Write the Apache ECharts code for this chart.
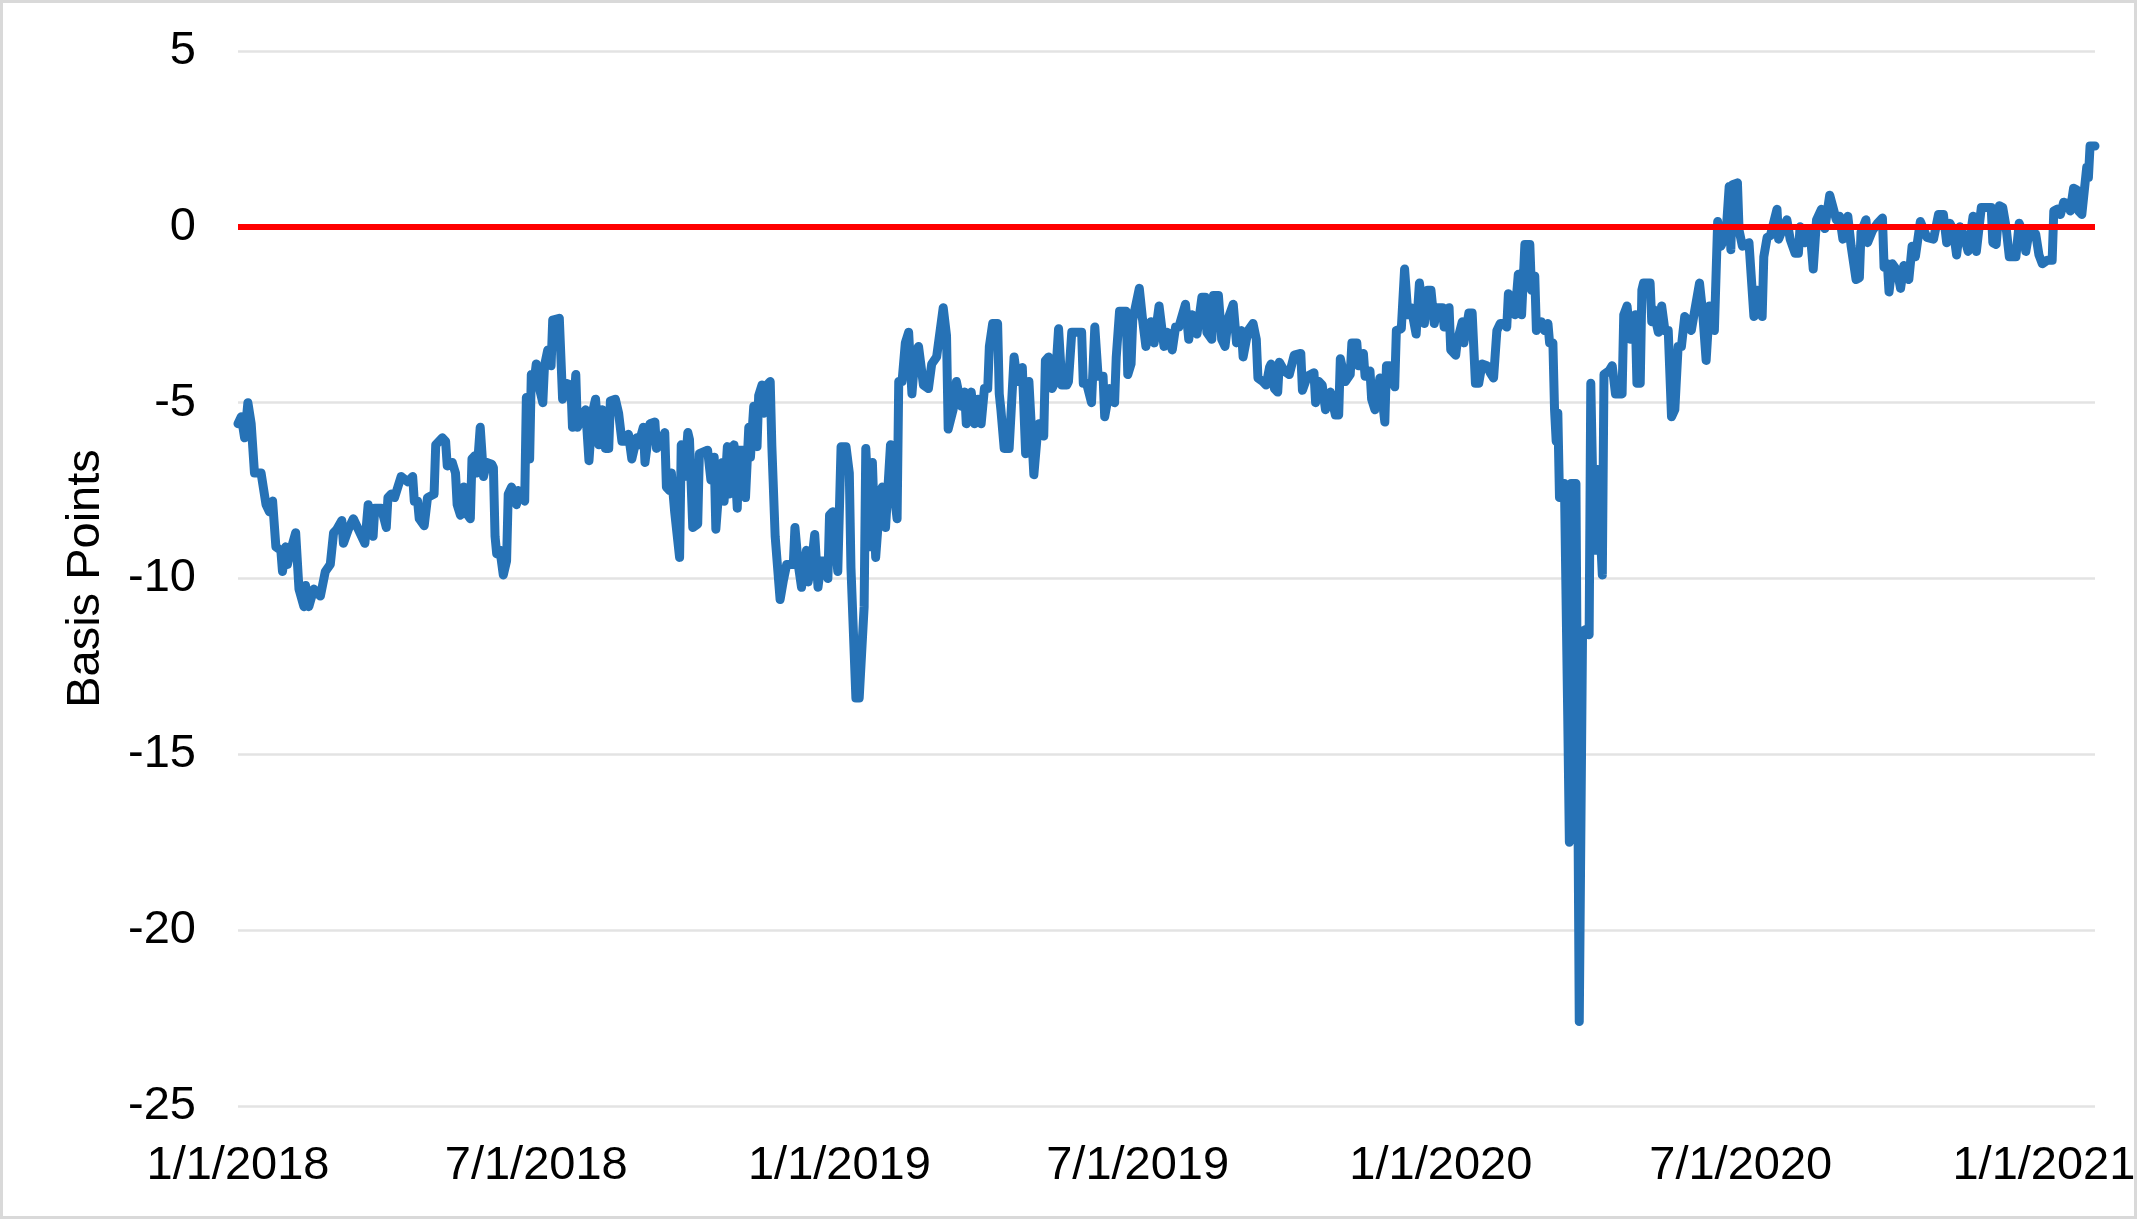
<!DOCTYPE html>
<html>
<head>
<meta charset="utf-8">
<script src="https://cdn.jsdelivr.net/npm/echarts@6/dist/echarts.min.js"></script>
<style>
html,body{margin:0;padding:0;background:#fff;}
#chart{width:2147px;height:1221px;}
</style>
</head>
<body>
<div id="chart"></div>
<script>
// ---- data (x = days since startDate, y = basis points) ----
const startDate = '2018-01-01';
const endDate = '2021-02-01';
const tickDates = ['2018-01-01','2018-07-01','2019-01-01','2019-07-01','2020-01-01','2020-07-01','2021-01-01'];
const tickLabels = ['1/1/2018','7/1/2018','1/1/2019','7/1/2019','1/1/2020','7/1/2020','1/1/2021'];
const yTicks = [5, 0, -5, -10, -15, -20, -25];
const zeroLine = 0;

const days = [
0,2,4,6,8,10,14,17,19,21,23,26,27,29,30,32,35,37,40,41,43,46,50,53,56,58,60,63,64,67,70,73,77,79,82,83,87,90,91,93,95,99,103,106,107,109,110,113,115,119,120,122,124,
126,127,130,132,133,135,137,138,141,142,144,145,147,149,151,154,155,156,157,159,161,163,164,166,169,170,174,175,177,178,180,181,183,185,186,188,190,191,195,197,199,202,203,205,206,209,211,213,215,217,219,221,223,225,226,229,231,233,235,237,239,242,243,246,247,250,253,254,
256,259,260,262,263,265,268,269,270,271,273,274,276,279,280,285,287,289,290,292,294,295,297,298,301,303,304,307,308,310,311,313,315,316,318,319,321,323,324,326,329,331,333,337,338,340,342,345,346,348,350,352,354,356,358,359,361,364,366,369,371,372,375,377,380,381,384,385,387,390,391,393,396,397,400,
401,403,405,407,409,411,413,416,419,421,424,428,430,431,434,436,439,441,442,445,447,449,451,453,455,456,458,461,462,463,465,468,471,473,476,478,480,483,485,486,489,490,492,494,496,498,500,503,504,506,510,512,
513,515,518,520,522,525,526,529,532,533,535,539,540,542,543,547,549,551,554,556,559,562,564,567,569,571,575,577,579,582,585,587,588,591,592,595,597,599,601,604,606,609,610,613,616,618,619,622,624,626,627,629,631,632,635,638,
641,645,646,649,653,654,656,658,660,663,666,668,669,672,675,676,679,680,683,684,687,688,690,693,696,697,699,702,703,706,708,710,712,715,717,720,722,724,726,728,731,732,735,736,739,740,743,744,747,749,751,753,755,758,760,762,764,766,
769,770,771,773,775,777,779,781,784,785,787,788,791,793,795,796,798,799,800,801,802,803,805,807,808,809,812,813,814,816,818,820,821,822,824,825,828,829,832,834,836,840,841,843,845,848,849,851,852,853,857,858,859,862,864,866,868,870,872,874,876,878,880,882,884,887,889,891,893,896,898,
900,903,904,905,906,907,910,911,913,917,920,922,925,926,928,930,934,935,938,940,942,945,947,948,951,954,956,958,961,963,966,968,970,972,974,977,979,982,984,985,988,989,992,995,998,999,1001,1002,1004,1007,1009,1011,1014,1016,1018,1021,
1025,1029,1032,1035,1037,1039,1041,1043,1045,1048,1050,1053,1055,1058,1064,1065,1067,1069,1071,1073,1075,1079,1081,1083,1085,1087,1091,1093,1095,1098,1101,1102,1104,1106,1108,1111,1112,1114,1116,1117,1119,1122,1123,1124,1127
];

const spread = [
-5.6,-5.4,-6.0,-5.0,-5.6,-7.0,-7.0,-7.9,-8.1,-7.8,-9.1,-9.2,-9.8,-9.1,-9.6,-9.2,-8.7,-10.3,-10.8,-10.2,-10.8,-10.3,-10.5,-9.8,-9.6,-8.7,-8.6,-8.35,-9.0,-8.6,-8.3,-8.6,-9.0,-7.9,-8.8,-8.0,-8.0,-8.55,-7.7,-7.6,-7.7,-7.1,-7.25,-7.1,-7.8,-7.8,-8.3,-8.5,-7.7,-7.6,-6.2,-6.1,-6.0,
-6.1,-6.8,-6.7,-7.0,-7.9,-8.2,-7.4,-8.1,-8.3,-6.6,-6.5,-7.0,-5.7,-7.1,-6.7,-6.75,-6.85,-8.8,-9.3,-9.2,-9.9,-9.5,-7.6,-7.4,-7.9,-7.5,-7.8,-4.85,-6.6,-4.2,-4.3,-3.9,-4.6,-5.0,-3.95,-3.5,-3.95,-2.65,-2.6,-4.9,-4.45,-4.5,-5.7,-4.2,-5.7,-5.4,-5.2,-6.65,-5.3,-4.9,-6.2,-5.2,-6.3,-6.3,-4.95,-4.9,-5.3,-6.1,-6.1,-5.9,-6.6,-6.0,-6.2,-5.7,-6.7,-5.6,-5.55,-6.3,
-6.2,-5.85,-7.4,-7.5,-7.0,-8.1,-9.4,-6.2,-6.2,-7.1,-5.85,-6.05,-8.55,-8.45,-6.45,-6.35,-7.2,-6.55,-8.6,-7.35,-6.7,-7.8,-6.25,-7.6,-6.2,-8.0,-6.35,-6.35,-7.7,-5.7,-6.55,-5.1,-6.25,-4.8,-4.5,-5.3,-4.5,-4.4,-6.25,-8.8,-10.6,-10.05,-9.6,-9.6,-8.55,-9.6,-10.25,-9.2,-10.1,-9.6,-8.75,-10.25,-9.5,-9.5,-10.0,-8.2,-8.1,-9.8,-6.25,-6.25,-7.0,-9.7,-13.4,-13.4,-10.8,-6.3,-9.1,-6.7,-9.4,-7.5,-7.4,-8.55,-6.2,-7.1,-8.3,
-4.4,-4.4,-3.3,-3.0,-4.75,-3.6,-3.4,-4.5,-4.6,-3.9,-3.7,-2.3,-3.1,-5.75,-5.2,-4.4,-5.1,-4.7,-5.6,-4.7,-5.6,-4.9,-5.6,-4.6,-4.6,-3.4,-2.75,-2.75,-4.75,-5.2,-6.3,-6.3,-3.7,-4.4,-4.0,-6.45,-4.4,-7.05,-5.95,-5.6,-5.95,-3.8,-3.7,-4.6,-4.4,-2.9,-4.5,-4.5,-4.4,-3.0,-3.0,-3.0,
-4.45,-4.45,-5.0,-2.85,-4.25,-4.25,-5.4,-4.6,-5.0,-3.7,-2.4,-2.4,-4.2,-3.9,-2.65,-1.75,-2.65,-3.4,-2.7,-3.3,-2.25,-3.4,-3.0,-3.5,-2.85,-2.85,-2.2,-3.2,-2.5,-3.05,-2.0,-2.0,-3.0,-3.2,-1.95,-1.95,-3.2,-3.4,-2.6,-2.2,-3.3,-2.95,-3.7,-2.95,-2.75,-3.2,-4.3,-4.4,-4.5,-4.0,-3.9,-4.6,-4.7,-3.85,-4.1,-4.2,
-3.65,-3.6,-4.65,-4.25,-4.15,-5.0,-4.4,-4.5,-5.2,-4.7,-5.35,-5.35,-3.75,-4.4,-4.2,-3.3,-3.3,-3.95,-3.6,-4.25,-4.1,-4.9,-5.2,-4.3,-5.55,-3.95,-3.95,-4.55,-2.95,-2.9,-1.2,-2.5,-2.3,-3.05,-1.6,-2.75,-1.8,-1.8,-2.75,-2.3,-2.3,-2.85,-2.3,-3.5,-3.65,-3.25,-2.7,-3.3,-2.45,-2.45,-4.45,-4.45,-3.9,-3.95,-4.15,-4.3,-2.95,-2.75,
-2.75,-2.85,-1.9,-2.05,-2.5,-1.35,-2.5,-0.5,-0.5,-1.8,-1.4,-2.95,-2.7,-2.95,-2.75,-3.3,-3.3,-5.2,-6.1,-5.3,-7.7,-7.3,-7.3,-13.9,-17.5,-7.3,-7.3,-7.3,-22.6,-11.5,-11.45,-11.6,-4.45,-6.85,-9.2,-6.9,-9.9,-4.2,-4.1,-3.95,-4.75,-4.75,-2.5,-2.25,-3.2,-2.5,-4.45,-4.45,-1.8,-1.6,-1.6,-2.7,-2.35,-3.0,-2.25,-2.95,-2.95,-5.4,-5.2,-3.4,-3.4,-2.55,-2.65,-2.95,-2.4,-1.6,-2.5,-3.8,-2.25,-2.95,0.15,
-0.55,-0.25,-0.25,1.15,-0.65,1.2,1.25,-0.1,-0.55,-0.45,-2.55,-1.8,-2.55,-0.85,-0.3,-0.25,0.5,-0.35,0.0,0.2,-0.35,-0.75,-0.75,0.0,-0.45,-0.05,-1.2,0.2,0.5,-0.05,0.9,0.55,0.2,0.3,-0.35,0.3,-0.55,-1.5,-1.45,-0.15,0.2,-0.45,-0.1,0.1,0.25,-1.15,-1.05,-1.85,-1.05,-1.25,-1.75,-1.1,-1.5,-0.55,-0.85,0.15,
-0.3,-0.35,0.35,0.35,-0.45,0.1,-0.1,-0.8,0.0,-0.35,-0.7,0.3,-0.7,0.55,0.55,-0.45,-0.5,0.6,0.55,0.0,-0.85,-0.85,0.1,-0.15,-0.7,-0.15,-0.2,-0.8,-1.05,-0.95,-0.95,0.45,0.5,0.35,0.7,0.65,0.45,1.1,1.05,0.45,0.35,1.7,1.4,2.3,2.3
];

// ---- build ----
const DAY = 86400000;
const t0 = Date.parse(startDate);
const toDay = s => Math.round((Date.parse(s) - t0) / DAY);
const tickDays = tickDates.map(toDay);
const seriesData = days.map((d, i) => [d, spread[i]]);

const FONT = "'Liberation Sans', Arial, sans-serif";
const chart = echarts.init(document.getElementById('chart'), null, {renderer: 'canvas'});
chart.setOption({
  animation: false,
  backgroundColor: '#ffffff',
  graphic: [{
    type: 'rect', z: -10,
    shape: {x: 1.5, y: 1.5, width: 2134, height: 1216},
    style: {fill: 'none', stroke: '#D9D9D9', lineWidth: 3}
  }],
  grid: {left: 238, right: 52, top: 51, bottom: 115, containLabel: false},
  xAxis: {
    type: 'value',
    min: 0,
    max: toDay(endDate),
    axisLine: {show: false},
    axisTick: {show: false},
    splitLine: {show: false},
    axisLabel: {
      customValues: tickDays,
      showMinLabel: true,
      showMaxLabel: true,
      hideOverlap: false,
      margin: 37,
      color: '#000000',
      fontFamily: FONT,
      fontSize: 47,
      formatter: function (v) {
        const i = tickDays.indexOf(Math.round(v));
        return i >= 0 ? tickLabels[i] : '';
      }
    }
  },
  yAxis: {
    type: 'value',
    min: yTicks[yTicks.length - 1],
    max: yTicks[0],
    interval: 5,
    name: 'Basis Points',
    nameLocation: 'middle',
    nameGap: 128,
    nameTextStyle: {color: '#000000', fontFamily: FONT, fontSize: 47},
    axisLine: {show: false},
    axisTick: {show: false},
    splitLine: {show: true, lineStyle: {color: '#E3E3E3', width: 2.5}},
    axisLabel: {margin: 42, color: '#000000', fontFamily: FONT, fontSize: 47}
  },
  series: [{
    type: 'line',
    data: seriesData,
    showSymbol: false,
    symbol: 'none',
    lineStyle: {color: '#2672B6', width: 9, join: 'round', cap: 'round'},
    z: 2,
    markLine: {
      silent: true,
      symbol: ['none', 'none'],
      label: {show: false},
      lineStyle: {color: '#FF0000', width: 6, type: 'solid'},
      data: [{yAxis: zeroLine}],
      z: 5
    }
  }]
});
</script>
</body>
</html>
